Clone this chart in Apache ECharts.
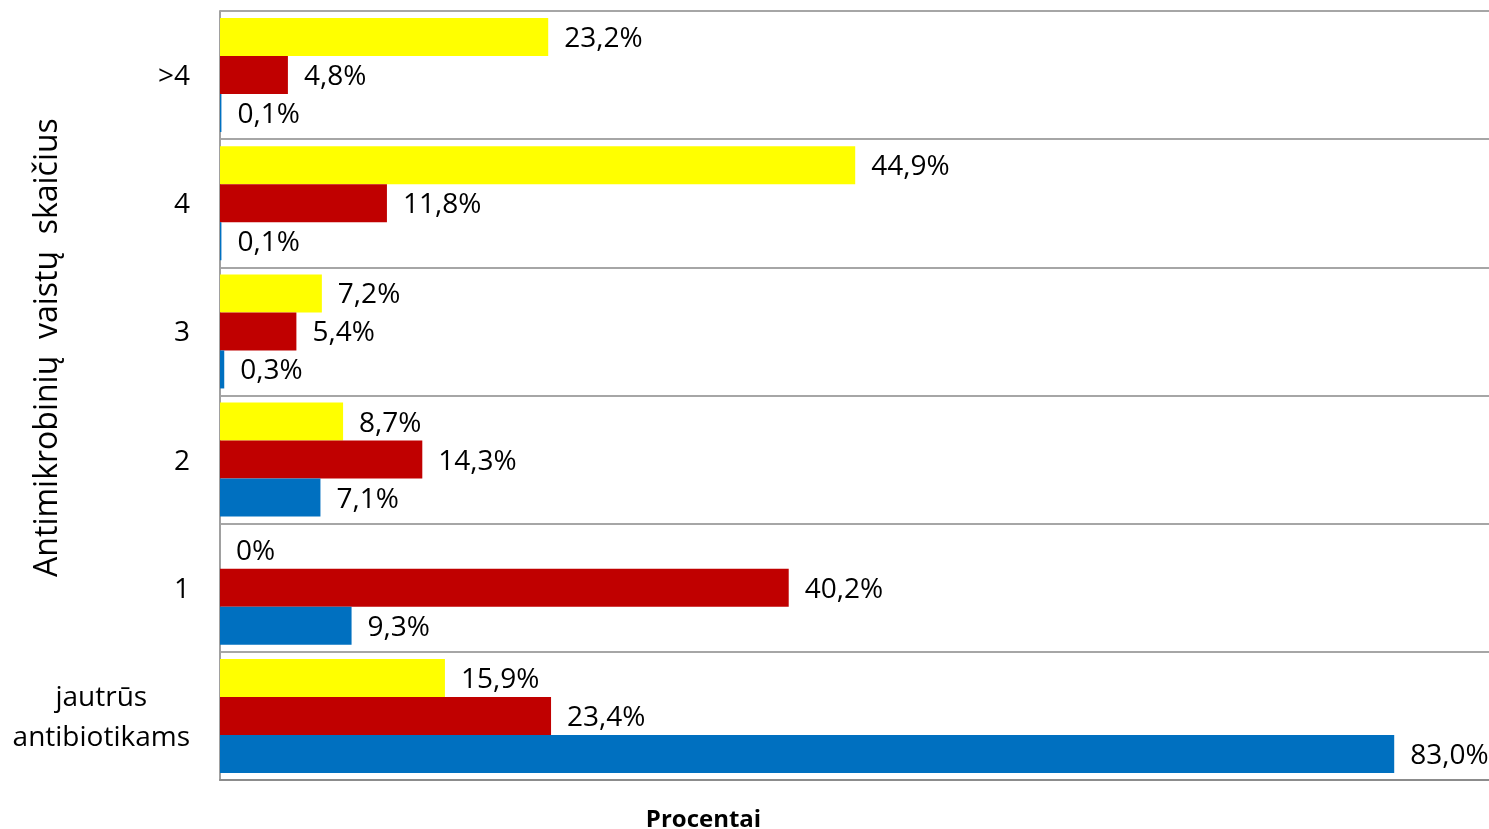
<!DOCTYPE html>
<html>
<head>
<meta charset="utf-8">
<script src="https://cdn.jsdelivr.net/npm/echarts@6/dist/echarts.min.js"></script>
<style>
html,body{margin:0;padding:0;background:#fff;}
#chart{width:1489px;height:829px;}
</style>
</head>
<body>
<div id="chart"></div>
<script>
const categories = ['jautrūs antibiotikams', '1', '2', '3', '4', '>4'];
const seriesYellow = [15.9, 0, 8.7, 7.2, 44.9, 23.2];
const seriesRed = [23.4, 40.2, 14.3, 5.4, 11.8, 4.8];
const seriesBlue = [83.0, 9.3, 7.1, 0.3, 0.1, 0.1];
const xAxisTitle = 'Procentai';
const yAxisTitle = 'Antimikrobinių  vaistų  skaičius';

const FONT = 'Open Sans';
function fmt(p) {
  const v = p.value;
  if (v === 0) return '0%';
  return v.toFixed(1).replace('.', ',') + '%';
}
function mkSeries(name, data, color) {
  return {
    name: name,
    type: 'bar',
    data: data,
    barGap: '0%',
    barCategoryGap: '11%',
    itemStyle: { color: color },
    label: {
      show: true,
      position: 'right',
      distance: 14,
      offset: [2, 2],
      color: '#000',
      fontFamily: FONT,
      fontSize: 28,
      formatter: fmt
    }
  };
}
const chart = echarts.init(document.getElementById('chart'), null, { renderer: 'canvas' });
chart.setOption({
  animation: false,
  backgroundColor: '#fff',
  grid: { left: 220, right: 0, top: 11, bottom: 49, containLabel: false, outerBoundsMode: 'none' },
  xAxis: {
    type: 'value',
    min: 0,
    max: 89.7,
    axisLabel: { show: false },
    axisTick: { show: false },
    splitLine: { show: false },
    axisLine: { show: true, lineStyle: { color: '#8c8c8c', width: 2 } },
    name: xAxisTitle,
    nameLocation: 'middle',
    nameMoveOverlap: false,
    nameGap: 28,
    nameTextStyle: { fontFamily: FONT, fontSize: 24, fontWeight: 'bold', color: '#000', padding: [0, 302, 0, 0] }
  },
  yAxis: {
    type: 'category',
    data: categories,
    axisTick: { show: false },
    axisLine: { show: true, lineStyle: { color: '#a0a0a0', width: 2 } },
    splitLine: { show: true, lineStyle: { color: '#a6a6a6', width: 2 } },
    axisLabel: {
      margin: 30,
      color: '#000',
      fontFamily: FONT,
      fontSize: 28,
      padding: [4, 0, 0, 0],
      formatter: function (v) {
        if (v.indexOf(' ') >= 0) {
          return v.split(' ').map(function (s) { return '{c|' + s + '}'; }).join('\n');
        }
        return v;
      },
      rich: {
        c: { align: 'center', fontFamily: FONT, fontSize: 28, color: '#000', lineHeight: 40 }
      }
    },
    name: yAxisTitle,
    nameLocation: 'middle',
    nameRotate: 90,
    nameMoveOverlap: false,
    nameGap: 156,
    nameTextStyle: { fontFamily: FONT, fontSize: 32, color: '#000', padding: [0, 0, 0, 96] }
  },
  series: [
    mkSeries('yellow', seriesYellow, '#FFFF00'),
    mkSeries('red', seriesRed, '#C00000'),
    mkSeries('blue', seriesBlue, '#0070C0')
  ]
});
</script>
</body>
</html>
